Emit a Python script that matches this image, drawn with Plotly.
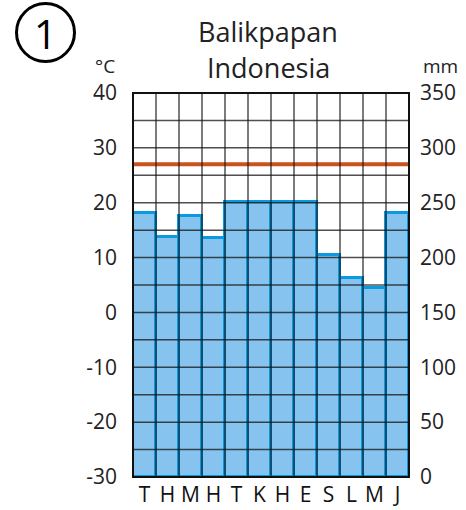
import plotly.graph_objects as go

months = ["T", "H", "M", "H", "T", "K", "H", "E", "S", "L", "M", "J"]
precip_mm = [241, 219, 238, 218, 251, 251, 251, 251, 202, 181, 172, 241]
temp_c = [27, 27, 27, 27, 27, 27, 27, 27, 27, 27, 27, 27]
temp_ticks = [-30, -20, -10, 0, 10, 20, 30, 40]
mm_ticks = [0, 50, 100, 150, 200, 250, 300, 350]
title_lines = ["Balikpapan", "Indonesia"]

n = len(months)
xs = list(range(n))
edges = [i - 0.5 for i in range(n + 1)]

W, H = 466, 510
# plot area in page pixels: x 133..409, y 93..477
L, T = 133, 93
R, B = W - 409, H - 477
PW, PH = W - L - R, H - T - B


def px(x):
    return (x - L) / PW


def py(y):
    return (H - B - y) / PH


fig = go.Figure()
fig.add_trace(go.Bar(
    x=xs, y=precip_mm, width=1, yaxis="y2",
    marker=dict(color="#86c4ef", line=dict(color="#0a9ae2", width=3)),
    showlegend=False, hoverinfo="skip",
))
fig.add_trace(go.Scatter(
    x=edges, y=temp_c + [temp_c[-1]], mode="lines", line_shape="hv",
    line=dict(color="#c9531f", width=4), showlegend=False, cliponaxis=False,
    hoverinfo="skip",
))

shapes = []
grid_col = "rgba(20,20,20,0.75)"
for t in range(temp_ticks[0], temp_ticks[-1] + 1, 5):
    shapes.append(dict(type="line", xref="paper", x0=0, x1=1, yref="y", y0=t, y1=t,
                       line=dict(color=grid_col, width=1.5), layer="above"))
for e in edges[1:-1]:
    shapes.append(dict(type="line", xref="x", x0=e, x1=e, yref="paper", y0=0, y1=1,
                       line=dict(color=grid_col, width=1.5), layer="above"))
shapes.append(dict(type="rect", xref="paper", yref="paper", x0=0, x1=1, y0=0, y1=1,
                   line=dict(color="#111", width=2), layer="above"))
# circle badge
shapes.append(dict(type="circle", xref="paper", yref="paper",
                   x0=px(16.5), x1=px(74.5), y0=py(61.5), y1=py(3.5),
                   line=dict(color="#000", width=3)))

font = "Open Sans, Noto Sans, sans-serif"
TICK = 21
fig.update_layout(
    width=W, height=H,
    margin=dict(l=L, r=R, t=T, b=B, autoexpand=False),
    paper_bgcolor="white", plot_bgcolor="white",
    bargap=0,
    font=dict(family=font, size=TICK, color="#222"),
    xaxis=dict(range=[-0.5, n - 0.5], tickmode="array", tickvals=xs, ticktext=months,
               showgrid=False, zeroline=False, ticks="", automargin=False,
               ticklabelstandoff=3, tickfont=dict(size=TICK, color="#111")),
    yaxis=dict(range=[-30, 40], tickmode="array", tickvals=temp_ticks,
               ticktext=[str(t) for t in temp_ticks],
               showgrid=False, zeroline=False, ticks="", automargin=False,
               ticklabelstandoff=15, tickfont=dict(size=TICK)),
    yaxis2=dict(range=[0, 350], tickmode="array", tickvals=mm_ticks,
                ticktext=[str(m) for m in mm_ticks], overlaying="y",
                side="right", showgrid=False, zeroline=False, ticks="", automargin=False,
                ticklabelstandoff=10, tickfont=dict(size=TICK)),
    shapes=shapes,
    annotations=[
        dict(text=title_lines[0], xref="paper", yref="paper", x=px(268), y=py(32),
             xanchor="center", yanchor="middle", showarrow=False,
             font=dict(size=27, color="#222", family=font)),
        dict(text=title_lines[1], xref="paper", yref="paper", x=px(268), y=py(67),
             xanchor="center", yanchor="middle", showarrow=False,
             font=dict(size=27, color="#222", family=font)),
        dict(text="°C", xref="paper", yref="paper", x=px(117), y=py(66), xanchor="right",
             yanchor="middle", showarrow=False, font=dict(size=19, color="#222")),
        dict(text="mm", xref="paper", yref="paper", x=px(421), y=py(66), xanchor="left",
             yanchor="middle", showarrow=False, font=dict(size=19, color="#222")),
        dict(text="1", xref="paper", yref="paper", x=px(45.5), y=py(33), xanchor="center",
             yanchor="middle", showarrow=False, font=dict(size=40, color="#000")),
    ],
)
fig.write_html("out.html", config={"displayModeBar": False},
               post_script="document.body.style.margin='0';")
